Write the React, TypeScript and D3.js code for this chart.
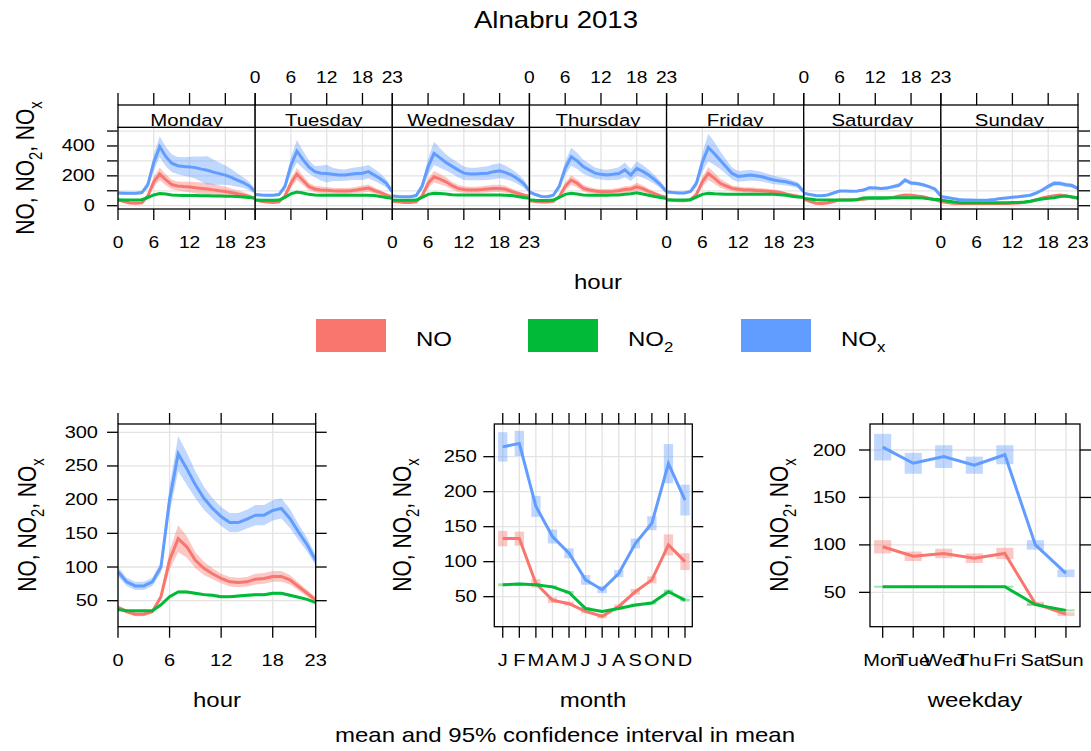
import * as d3 from 'd3';

const FONT = "'Liberation Sans', Arial, Helvetica, sans-serif";
const SX = 1.2; // the reference text is drawn wide
const TSX = 1.25; // tick labels are a little wider still

// ---- data -----------------------------------------------------------------
const colors = ['#F8766D', '#00BA38', '#619CFF']; // NO, NO2, NOx

const hours = [0, 1, 2, 3, 4, 5, 6, 7, 8, 9, 10, 11, 12, 13, 14, 15, 16, 17, 18, 19, 20, 21, 22, 23];
const hourTicks = [0, 6, 12, 18, 23];
const dayNames = ['Monday', 'Tuesday', 'Wednesday', 'Thursday', 'Friday', 'Saturday', 'Sunday'];
const monthLabels = ['J', 'F', 'M', 'A', 'M', 'J', 'J', 'A', 'S', 'O', 'N', 'D'];
const weekdayLabels = ['Mon', 'Tue', 'Wed', 'Thu', 'Fri', 'Sat', 'Sun'];

// day x hour means and 95% CI half widths
const monNO = [38, 28, 18, 16, 20, 65, 160, 212, 175, 142, 132, 128, 125, 120, 116, 112, 106, 100, 95, 88, 80, 72, 62, 48];
const monNOci = [6, 5, 4, 4, 6, 15, 35, 42, 38, 32, 30, 32, 35, 38, 40, 42, 40, 36, 32, 28, 24, 20, 15, 8];
const monNO2 = [40, 39, 38, 38, 40, 55, 72, 82, 78, 72, 70, 69, 68, 68, 67, 66, 65, 65, 64, 63, 61, 58, 55, 52];
const monNO2ci = [3, 3, 3, 3, 3, 4, 5, 6, 6, 5, 5, 5, 5, 5, 5, 5, 5, 5, 5, 5, 4, 4, 4, 3];
const monNOx = [85, 84, 83, 83, 88, 140, 290, 395, 330, 285, 268, 262, 260, 255, 245, 237, 225, 215, 205, 190, 172, 155, 132, 95];
const monNOxci = [10, 10, 9, 9, 12, 25, 55, 70, 65, 60, 58, 62, 68, 75, 85, 95, 85, 75, 65, 55, 45, 35, 28, 15];

const tueNO = [38, 30, 24, 22, 26, 65, 150, 212, 170, 128, 112, 106, 104, 100, 98, 98, 100, 105, 112, 118, 102, 88, 72, 58];
const tueNOci = [5, 4, 4, 4, 5, 15, 30, 40, 32, 25, 22, 22, 22, 20, 20, 20, 20, 22, 24, 24, 20, 16, 12, 8];
const tueNO2 = [38, 37, 36, 36, 38, 55, 80, 92, 85, 76, 72, 70, 70, 70, 70, 70, 70, 70, 70, 70, 68, 62, 55, 50];
const tueNO2ci = [3, 3, 3, 3, 3, 4, 5, 6, 6, 5, 5, 5, 5, 5, 5, 5, 5, 5, 5, 5, 4, 4, 4, 3];
const tueNOx = [75, 72, 70, 70, 75, 130, 270, 365, 310, 260, 228, 218, 215, 210, 205, 205, 210, 215, 218, 228, 205, 180, 150, 95];
const tueNOxci = [8, 8, 8, 8, 10, 25, 55, 75, 60, 45, 38, 50, 60, 45, 40, 38, 40, 42, 45, 45, 40, 35, 28, 15];

const wedNO = [30, 26, 22, 22, 26, 65, 150, 194, 178, 160, 135, 116, 108, 105, 105, 108, 112, 116, 116, 110, 95, 83, 72, 62];
const wedNOci = [4, 4, 3, 3, 5, 15, 30, 38, 34, 30, 26, 24, 22, 22, 22, 22, 24, 25, 25, 23, 20, 16, 12, 8];
const wedNO2 = [38, 37, 36, 36, 38, 55, 76, 84, 82, 78, 74, 72, 71, 71, 71, 71, 71, 71, 71, 70, 68, 62, 55, 50];
const wedNO2ci = [3, 3, 3, 3, 3, 4, 5, 6, 6, 5, 5, 5, 5, 5, 5, 5, 5, 5, 5, 5, 4, 4, 4, 3];
const wedNOx = [65, 62, 60, 60, 68, 130, 260, 350, 320, 290, 265, 240, 218, 212, 212, 215, 218, 228, 234, 222, 205, 180, 150, 100];
const wedNOxci = [8, 8, 7, 7, 10, 25, 55, 78, 65, 55, 50, 50, 45, 42, 42, 44, 46, 50, 50, 45, 40, 35, 28, 15];

const thuNO = [35, 28, 25, 25, 30, 60, 130, 172, 150, 118, 105, 98, 94, 94, 96, 100, 108, 112, 127, 115, 96, 80, 66, 56];
const thuNOci = [4, 4, 3, 3, 5, 12, 26, 32, 28, 22, 20, 18, 18, 18, 18, 20, 22, 22, 26, 22, 18, 14, 10, 8];
const thuNO2 = [38, 36, 35, 35, 38, 55, 76, 83, 78, 72, 70, 70, 70, 70, 71, 72, 76, 80, 86, 78, 70, 62, 55, 49];
const thuNO2ci = [3, 3, 3, 3, 3, 4, 5, 6, 6, 5, 5, 5, 5, 5, 5, 5, 5, 5, 5, 5, 4, 4, 4, 3];
const thuNOx = [92, 75, 62, 60, 70, 130, 250, 328, 300, 262, 240, 218, 210, 205, 210, 216, 240, 205, 250, 230, 205, 175, 140, 94];
const thuNOxci = [10, 8, 7, 7, 10, 22, 45, 60, 55, 48, 42, 38, 35, 35, 38, 42, 50, 40, 48, 42, 36, 30, 24, 14];

const friNO = [40, 36, 34, 34, 40, 75, 160, 216, 185, 150, 132, 116, 110, 106, 105, 102, 100, 97, 94, 88, 78, 71, 64, 56];
const friNOci = [4, 4, 4, 4, 6, 15, 32, 44, 38, 30, 25, 20, 18, 18, 18, 18, 17, 16, 15, 14, 12, 10, 9, 8];
const friNO2 = [40, 39, 38, 38, 40, 58, 76, 83, 80, 78, 76, 76, 76, 76, 76, 76, 76, 76, 76, 74, 70, 64, 58, 56];
const friNO2ci = [3, 3, 3, 3, 3, 4, 5, 6, 6, 5, 5, 5, 5, 5, 5, 5, 5, 5, 5, 5, 4, 4, 4, 3];
const friNOx = [94, 88, 85, 85, 95, 150, 290, 390, 350, 305, 260, 216, 196, 200, 205, 200, 194, 182, 172, 166, 160, 150, 138, 94];
const friNOxci = [10, 9, 8, 8, 12, 28, 62, 92, 78, 60, 48, 40, 36, 36, 36, 34, 32, 30, 28, 26, 24, 22, 20, 14];

const satNO = [45, 30, 17, 15, 18, 28, 38, 38, 38, 40, 44, 48, 48, 48, 50, 55, 65, 72, 70, 65, 60, 50, 40, 28];
const satNOci = [4, 3, 2, 2, 2, 3, 4, 4, 4, 4, 4, 5, 5, 5, 5, 5, 6, 7, 7, 6, 6, 5, 4, 3];
const satNO2 = [49, 45, 40, 38, 38, 38, 38, 38, 38, 42, 52, 54, 54, 54, 54, 54, 54, 54, 54, 54, 52, 46, 42, 42];
const satNO2ci = [2, 2, 2, 2, 2, 2, 2, 2, 2, 2, 2, 2, 2, 2, 2, 2, 2, 2, 2, 2, 2, 2, 2, 2];
const satNOx = [83, 75, 68, 67, 72, 85, 98, 98, 97, 98, 105, 120, 118, 116, 118, 128, 138, 172, 152, 148, 140, 128, 112, 65];
const satNOxci = [8, 7, 6, 6, 6, 7, 8, 8, 8, 8, 9, 10, 10, 10, 10, 12, 14, 16, 14, 13, 12, 10, 9, 6];

const sunNO = [28, 22, 17, 15, 14, 14, 14, 14, 14, 15, 15, 15, 16, 18, 22, 28, 40, 52, 60, 66, 71, 65, 58, 48];
const sunNOci = [3, 2, 2, 2, 2, 2, 2, 2, 2, 2, 2, 2, 2, 2, 3, 3, 4, 5, 6, 7, 7, 7, 6, 5];
const sunNO2 = [38, 32, 26, 22, 20, 20, 20, 20, 20, 20, 20, 20, 21, 22, 25, 30, 38, 45, 50, 54, 62, 65, 58, 54];
const sunNO2ci = [2, 2, 2, 2, 2, 2, 2, 2, 2, 2, 2, 2, 2, 2, 2, 2, 2, 2, 2, 2, 2, 2, 2, 2];
const sunNOx = [62, 55, 48, 42, 38, 38, 37, 37, 38, 42, 48, 52, 56, 60, 65, 70, 85, 105, 130, 150, 148, 140, 135, 115];
const sunNOxci = [6, 5, 4, 4, 3, 3, 3, 3, 3, 4, 4, 5, 5, 6, 6, 7, 9, 11, 14, 16, 15, 14, 14, 12];

// diurnal (all days)
const hourNO = [40, 34, 30, 30, 34, 56, 110, 142, 130, 110, 98, 90, 83, 78, 77, 78, 82, 83, 86, 86, 81, 71, 61, 51];
const hourNOci = [3, 3, 3, 3, 3, 5, 14, 20, 16, 12, 10, 8, 7, 7, 7, 7, 8, 8, 8, 8, 7, 6, 5, 4];
const hourNO2 = [37, 35, 35, 35, 35, 44, 56, 63, 63, 61, 59, 58, 56, 56, 57, 58, 59, 59, 61, 61, 58, 55, 52, 47];
const hourNO2ci = [1, 1, 1, 1, 1, 1, 2, 2, 2, 2, 2, 2, 2, 2, 2, 2, 2, 2, 2, 2, 2, 1, 1, 1];
const hourNOx = [93, 78, 72, 72, 78, 100, 200, 268, 246, 222, 202, 187, 175, 166, 166, 171, 177, 177, 184, 187, 172, 152, 133, 110];
const hourNOxci = [7, 6, 6, 6, 6, 8, 20, 26, 24, 20, 17, 15, 14, 14, 14, 14, 15, 15, 15, 15, 14, 12, 10, 8];

// monthly
const monthNO = [133, 133, 69, 45, 40, 29, 22, 36, 57, 74, 124, 100];
const monthNOci = [11, 10, 6, 4, 3, 3, 3, 3, 4, 5, 15, 12];
const monthNO2 = [67, 68, 67, 64, 56, 33, 29, 33, 38, 41, 57, 45];
const monthNO2ci = [2, 2, 2, 2, 2, 2, 1, 1, 2, 2, 3, 2];
const monthNOx = [264, 269, 179, 136, 112, 74, 60, 83, 126, 155, 240, 188];
const monthNOxci = [21, 18, 15, 10, 7, 7, 5, 5, 7, 10, 28, 22];

// weekday
const wdNO = [98, 88, 91, 86, 91, 38, 27];
const wdNOci = [7, 5, 5, 5, 6, 2, 2];
const wdNO2 = [56, 56, 56, 56, 56, 37, 31];
const wdNO2ci = [1, 1, 1, 1, 1, 1, 1];
const wdNOx = [203, 186, 193, 184, 195, 100, 70];
const wdNOxci = [14, 11, 12, 9, 10, 5, 4];

const dayData = [
  [[monNO, monNOci], [monNO2, monNO2ci], [monNOx, monNOxci]],
  [[tueNO, tueNOci], [tueNO2, tueNO2ci], [tueNOx, tueNOxci]],
  [[wedNO, wedNOci], [wedNO2, wedNO2ci], [wedNOx, wedNOxci]],
  [[thuNO, thuNOci], [thuNO2, thuNO2ci], [thuNOx, thuNOxci]],
  [[friNO, friNOci], [friNO2, friNO2ci], [friNOx, friNOxci]],
  [[satNO, satNOci], [satNO2, satNO2ci], [satNOx, satNOxci]],
  [[sunNO, sunNOci], [sunNO2, sunNO2ci], [sunNOx, sunNOxci]],
];

// ---- helpers ----------------------------------------------------------------
function T({ x, y, size, anchor = 'middle', rot = false, sx = SX, children }: any) {
  const tf = `translate(${x},${y}) scale(${sx},1)` + (rot ? ' rotate(-90)' : '');
  return (
    <text transform={tf} fontSize={size} textAnchor={anchor} fill="#000">
      {children}
    </text>
  );
}

function SpeciesLabel({ size }: { size: number }) {
  const d = size * 0.3;
  const s = size * 0.7;
  return (
    <>
      NO, NO<tspan dy={d} fontSize={s}>2</tspan>
      <tspan dy={-d}>, NO</tspan>
      <tspan dy={d} fontSize={s}>x</tspan>
    </>
  );
}

const GRID = '#e3e3e3';
const TICK = 11;
const LW = 3;

// ---- top: day x hour panels ---------------------------------------------------
const TOP = { x0: 118, x1: 1078, strip: 105, top: 127.3, bottom: 209 };
const panelW = (TOP.x1 - TOP.x0) / 7;
const yTop = d3.scaleLinear().domain([-22, 525]).range([TOP.bottom, TOP.top]);
const topYTicks = [0, 100, 200, 300, 400, 500];
const topYLabels = [0, 200, 400];

function DayPanel({ i }: { i: number }) {
  const px0 = TOP.x0 + i * panelW;
  const x = d3.scaleLinear().domain([0, 23]).range([px0, px0 + panelW]);
  const series = dayData[i];
  const area = (m: number[], c: number[]) =>
    d3.area<number>().x((_, k) => x(hours[k])).y0((v, k) => yTop(v - c[k])).y1((v, k) => yTop(v + c[k]))(m) as string;
  const line = (m: number[]) => d3.line<number>().x((_, k) => x(hours[k])).y((v) => yTop(v))(m) as string;
  const clip = `dclip${i}`;
  const sclip = `sclip${i}`;
  return (
    <g>
      <defs>
        <clipPath id={clip}><rect x={px0} y={TOP.top} width={panelW} height={TOP.bottom - TOP.top} /></clipPath>
        <clipPath id={sclip}><rect x={px0} y={TOP.strip} width={panelW} height={TOP.top - TOP.strip} /></clipPath>
      </defs>
      <g stroke={GRID} strokeWidth={1.3}>
        {hourTicks.map((h) => <line key={'v' + h} x1={x(h)} x2={x(h)} y1={TOP.top} y2={TOP.bottom} />)}
        {topYTicks.map((v) => <line key={'h' + v} x1={px0} x2={px0 + panelW} y1={yTop(v)} y2={yTop(v)} />)}
      </g>
      <g clipPath={`url(#${clip})`}>
        {series.map(([m, c], k) => <path key={'a' + k} d={area(m, c)} fill={colors[k]} fillOpacity={0.4} />)}
        {series.map(([m], k) => <path key={'l' + k} d={line(m)} fill="none" stroke={colors[k]} strokeWidth={LW} />)}
      </g>
      <rect x={px0} y={TOP.top} width={panelW} height={TOP.bottom - TOP.top} fill="none" stroke="#000" strokeWidth={1.3} />
      <rect x={px0} y={TOP.strip} width={panelW} height={TOP.top - TOP.strip} fill="#fff" stroke="#000" strokeWidth={1.3} />
      <g clipPath={`url(#${sclip})`}>
        <T x={px0 + panelW / 2} y={TOP.top - 1} size={17}>{dayNames[i]}</T>
      </g>
      <g stroke="#000" strokeWidth={1.3}>
        {hourTicks.map((h) => <line key={'t' + h} x1={x(h)} x2={x(h)} y1={TOP.strip} y2={TOP.strip - 12} />)}
        {hourTicks.map((h) => <line key={'b' + h} x1={x(h)} x2={x(h)} y1={TOP.bottom} y2={TOP.bottom + TICK} />)}
      </g>
      {i % 2 === 1
        ? hourTicks.map((h) => <T key={'tl' + h} x={x(h)} y={83} size={16}>{h}</T>)
        : hourTicks.map((h) => <T key={'bl' + h} x={x(h)} y={248} size={16}>{h}</T>)}
    </g>
  );
}

// ---- bottom panels ---------------------------------------------------------------
type BP = {
  x0: number; x1: number; xDomain: [number, number]; yDomain: [number, number];
  xs: number[]; xTicks: number[]; xLabels: string[]; yTicks: number[]; labelRight: number;
  series: number[][][]; boxes: boolean; id: string;
};
const BOT = { top: 424, bottom: 626.7 };

function BottomPanel(p: BP) {
  const x = d3.scaleLinear().domain(p.xDomain).range([p.x0, p.x1]);
  const y = d3.scaleLinear().domain(p.yDomain).range([BOT.bottom, BOT.top]);
  const line = (m: number[]) => d3.line<number>().x((_, k) => x(p.xs[k])).y((v) => y(v))(m) as string;
  const area = (m: number[], c: number[]) =>
    d3.area<number>().x((_, k) => x(p.xs[k])).y0((v, k) => y(v - c[k])).y1((v, k) => y(v + c[k]))(m) as string;
  const hw = 0.28;
  return (
    <g>
      <defs>
        <clipPath id={p.id}><rect x={p.x0} y={BOT.top} width={p.x1 - p.x0} height={BOT.bottom - BOT.top} /></clipPath>
      </defs>
      <g stroke={GRID} strokeWidth={1.3}>
        {p.xTicks.map((t) => <line key={'v' + t} x1={x(t)} x2={x(t)} y1={BOT.top} y2={BOT.bottom} />)}
        {p.yTicks.map((t) => <line key={'h' + t} x1={p.x0} x2={p.x1} y1={y(t)} y2={y(t)} />)}
      </g>
      <g clipPath={`url(#${p.id})`}>
        {p.series.map(([m, c], k) =>
          p.boxes ? (
            <g key={'a' + k} fill={colors[k]} fillOpacity={0.4}>
              {m.map((v, j) => (
                <rect key={j} x={x(p.xs[j] - hw)} width={x(p.xs[j] + hw) - x(p.xs[j] - hw)}
                  y={y(v + c[j])} height={y(v - c[j]) - y(v + c[j])} />
              ))}
            </g>
          ) : (
            <path key={'a' + k} d={area(m, c)} fill={colors[k]} fillOpacity={0.4} />
          )
        )}
        {p.series.map(([m], k) => <path key={'l' + k} d={line(m)} fill="none" stroke={colors[k]} strokeWidth={LW} />)}
      </g>
      <rect x={p.x0} y={BOT.top} width={p.x1 - p.x0} height={BOT.bottom - BOT.top} fill="none" stroke="#000" strokeWidth={1.3} />
      <g stroke="#000" strokeWidth={1.3}>
        {p.xTicks.map((t) => <line key={'t' + t} x1={x(t)} x2={x(t)} y1={BOT.top} y2={BOT.top - TICK} />)}
        {p.xTicks.map((t) => <line key={'b' + t} x1={x(t)} x2={x(t)} y1={BOT.bottom} y2={BOT.bottom + TICK} />)}
        {p.yTicks.map((t) => <line key={'l' + t} x1={p.x0} x2={p.x0 - TICK} y1={y(t)} y2={y(t)} />)}
        {p.yTicks.map((t) => <line key={'r' + t} x1={p.x1} x2={p.x1 + TICK} y1={y(t)} y2={y(t)} />)}
      </g>
      {p.xTicks.map((t, k) => <T key={'xl' + t} x={x(t)} y={666} size={16} sx={TSX}>{p.xLabels[k]}</T>)}
      {p.yTicks.map((t) => <T key={'yl' + t} x={p.labelRight} y={y(t) + 5.5} size={16} sx={TSX} anchor="end">{t}</T>)}
    </g>
  );
}

const monthNums = [1, 2, 3, 4, 5, 6, 7, 8, 9, 10, 11, 12];
const weekdayNums = [1, 2, 3, 4, 5, 6, 7];

const legendItems = [
  { x: 316, label: 'NO', sub: '' },
  { x: 528, label: 'NO', sub: '2' },
  { x: 741, label: 'NO', sub: 'x' },
];

export default function App() {
  return (
    <svg width={1091} height={751} fontFamily={FONT}
      style={{ position: 'absolute', left: 0, top: 0, display: 'block', background: '#fff' }}>
      <rect width={1091} height={751} fill="#fff" />
      <T x={556} y={28} size={23}>Alnabru 2013</T>

      {/* top: hour by weekday */}
      <g stroke="#000" strokeWidth={1.3}>
        {topYTicks.map((v) => <line key={'yl' + v} x1={TOP.x0 - TICK} x2={TOP.x0} y1={yTop(v)} y2={yTop(v)} />)}
        {topYTicks.map((v) => <line key={'yr' + v} x1={TOP.x1} x2={TOP.x1 + 12} y1={yTop(v)} y2={yTop(v)} />)}
      </g>
      {topYLabels.map((v) => <T key={'ylab' + v} x={95} y={yTop(v) + 5.5} size={16} sx={TSX} anchor="end">{v}</T>)}
      {dayNames.map((_, i) => <DayPanel key={i} i={i} />)}
      <T x={34} y={168} size={21} rot><SpeciesLabel size={21} /></T>
      <T x={598} y={289} size={20}>hour</T>

      {/* legend */}
      {legendItems.map((it, k) => (
        <g key={k}>
          <rect x={it.x} y={319} width={70} height={33} fill={colors[k]} />
          <T x={it.x + 100} y={346} size={20} anchor="start">
            {it.label}
            {it.sub && <tspan dy={6} fontSize={14}>{it.sub}</tspan>}
          </T>
        </g>
      ))}

      {/* bottom panels */}
      <BottomPanel id="bhour" x0={118} x1={315.7} xDomain={[0, 23]} yDomain={[11.4, 312.3]}
        xs={hours} xTicks={hourTicks} xLabels={hourTicks.map(String)} yTicks={[50, 100, 150, 200, 250, 300]}
        labelRight={98} boxes={false}
        series={[[hourNO, hourNOci], [hourNO2, hourNO2ci], [hourNOx, hourNOxci]]} />
      <BottomPanel id="bmonth" x0={494.3} x1={692.3} xDomain={[0.49, 12.44]} yDomain={[7.1, 296.7]}
        xs={monthNums} xTicks={monthNums} xLabels={monthLabels} yTicks={[50, 100, 150, 200, 250]}
        labelRight={477} boxes={true}
        series={[[monthNO, monthNOci], [monthNO2, monthNO2ci], [monthNOx, monthNOxci]]} />
      <BottomPanel id="bwd" x0={870} x1={1080} xDomain={[0.585, 7.46]} yDomain={[13.8, 227.4]}
        xs={weekdayNums} xTicks={weekdayNums} xLabels={weekdayLabels} yTicks={[50, 100, 150, 200]}
        labelRight={846} boxes={true}
        series={[[wdNO, wdNOci], [wdNO2, wdNO2ci], [wdNOx, wdNOxci]]} />

      <T x={36} y={525} size={21} rot><SpeciesLabel size={21} /></T>
      <T x={411} y={525} size={21} rot><SpeciesLabel size={21} /></T>
      <T x={788} y={525} size={21} rot><SpeciesLabel size={21} /></T>

      <T x={217} y={707} size={20}>hour</T>
      <T x={593} y={707} size={20}>month</T>
      <T x={975} y={707} size={20}>weekday</T>
      <T x={565} y={742} size={20}>mean and 95% confidence interval in mean</T>
    </svg>
  );
}
